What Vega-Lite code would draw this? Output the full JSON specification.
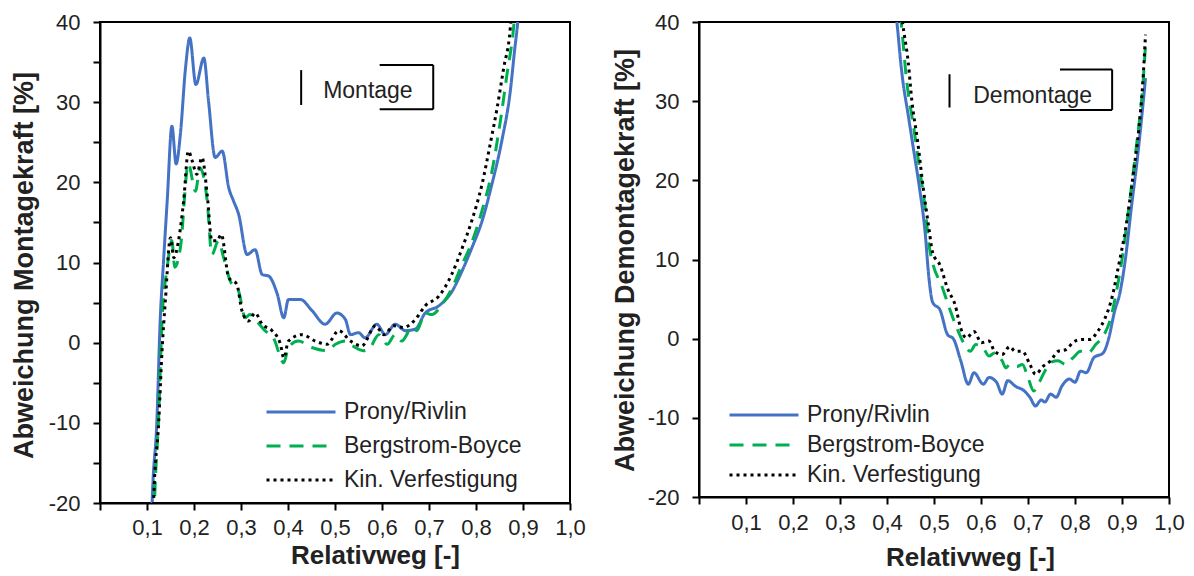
{
  "$schema": "https://vega.github.io/schema/vega-lite/v6.json",
  "padding": {"left": 8, "top": 10, "right": 5, "bottom": 5},
  "background": "white",
  "bounds": "flush",
  "spacing": 129,
  "config": {
    "view": {"stroke": "black", "strokeWidth": 2},
    "font": "Liberation Sans",
    "axis": {
      "domainColor": "black", "domainWidth": 2,
      "tickColor": "black", "tickWidth": 2, "tickSize": 7,
      "grid": false,
      "labelFont": "Liberation Sans", "labelFontSize": 22, "labelColor": "#222",
      "labelOverlap": false, "labelFlush": false,
      "titleFont": "Liberation Sans", "titleFontWeight": "bold", "titleColor": "#222"
    }
  },
  "datasets": {
    "mont": [
      {"m":"P","x":0.110,"y":-22},{"m":"P","x":0.111,"y":-20},{"m":"P","x":0.121,"y":-9.8},{"m":"P","x":0.128,"y":2.7},{"m":"P","x":0.135,"y":10},{"m":"P","x":0.143,"y":17.7},{"m":"P","x":0.153,"y":27},{"m":"P","x":0.162,"y":22.3},{"m":"P","x":0.171,"y":26},{"m":"P","x":0.182,"y":34.3},{"m":"P","x":0.191,"y":38},{"m":"P","x":0.204,"y":32.2},{"m":"P","x":0.221,"y":35.5},{"m":"P","x":0.231,"y":30.1},{"m":"P","x":0.245,"y":23.1},{"m":"P","x":0.26,"y":23.9},{"m":"P","x":0.274,"y":19.3},{"m":"P","x":0.284,"y":17.7},{"m":"P","x":0.295,"y":16},{"m":"P","x":0.313,"y":11},{"m":"P","x":0.33,"y":11.6},{"m":"P","x":0.345,"y":8.5},{"m":"P","x":0.359,"y":8.3},{"m":"P","x":0.377,"y":6.1},{"m":"P","x":0.391,"y":3.1},{"m":"P","x":0.401,"y":5.4},{"m":"P","x":0.426,"y":5.4},{"m":"P","x":0.451,"y":4},{"m":"P","x":0.479,"y":2.3},{"m":"P","x":0.504,"y":3.7},{"m":"P","x":0.522,"y":2.9},{"m":"P","x":0.533,"y":1},{"m":"P","x":0.55,"y":1.25},{"m":"P","x":0.564,"y":0.6},{"m":"P","x":0.589,"y":2.3},{"m":"P","x":0.607,"y":1},{"m":"P","x":0.628,"y":2.3},{"m":"P","x":0.65,"y":1.5},{"m":"P","x":0.671,"y":1.7},{"m":"P","x":0.692,"y":3.7},{"m":"P","x":0.721,"y":4.6},{"m":"P","x":0.749,"y":6.4},{"m":"P","x":0.77,"y":8.9},{"m":"P","x":0.791,"y":11.8},{"m":"P","x":0.813,"y":15.2},{"m":"P","x":0.834,"y":19.8},{"m":"P","x":0.855,"y":25.2},{"m":"P","x":0.873,"y":31.4},{"m":"P","x":0.882,"y":36.4},{"m":"P","x":0.889,"y":40.1},{"m":"P","x":0.893,"y":43},
      {"m":"B","x":0.115,"y":-22},{"m":"B","x":0.116,"y":-20},{"m":"B","x":0.125,"y":-9},{"m":"B","x":0.132,"y":2.7},{"m":"B","x":0.143,"y":9.4},{"m":"B","x":0.153,"y":12.7},{"m":"B","x":0.159,"y":9.4},{"m":"B","x":0.171,"y":11.8},{"m":"B","x":0.188,"y":22.3},{"m":"B","x":0.203,"y":18.9},{"m":"B","x":0.213,"y":21.8},{"m":"B","x":0.228,"y":17.7},{"m":"B","x":0.238,"y":11},{"m":"B","x":0.252,"y":12.7},{"m":"B","x":0.263,"y":10.6},{"m":"B","x":0.277,"y":7.7},{"m":"B","x":0.295,"y":6.4},{"m":"B","x":0.309,"y":3.1},{"m":"B","x":0.319,"y":3.5},{"m":"B","x":0.333,"y":2.7},{"m":"B","x":0.351,"y":1.5},{"m":"B","x":0.369,"y":0.6},{"m":"B","x":0.391,"y":-2.5},{"m":"B","x":0.401,"y":-0.6},{"m":"B","x":0.422,"y":0.2},{"m":"B","x":0.451,"y":-0.6},{"m":"B","x":0.483,"y":-1},{"m":"B","x":0.501,"y":-0.2},{"m":"B","x":0.522,"y":0.2},{"m":"B","x":0.543,"y":-0.6},{"m":"B","x":0.561,"y":-1},{"m":"B","x":0.575,"y":-0.6},{"m":"B","x":0.593,"y":1},{"m":"B","x":0.611,"y":-0.2},{"m":"B","x":0.628,"y":1},{"m":"B","x":0.642,"y":0.2},{"m":"B","x":0.664,"y":1.9},{"m":"B","x":0.674,"y":1.5},{"m":"B","x":0.692,"y":3.7},{"m":"B","x":0.706,"y":3.5},{"m":"B","x":0.728,"y":4.8},{"m":"B","x":0.749,"y":6.8},{"m":"B","x":0.77,"y":9.7},{"m":"B","x":0.791,"y":12.5},{"m":"B","x":0.813,"y":16.5},{"m":"B","x":0.834,"y":21.4},{"m":"B","x":0.852,"y":27.7},{"m":"B","x":0.866,"y":33.5},{"m":"B","x":0.88,"y":39.3},{"m":"B","x":0.884,"y":42},
      {"m":"K","x":0.113,"y":-22},{"m":"K","x":0.114,"y":-20},{"m":"K","x":0.125,"y":-9.8},{"m":"K","x":0.132,"y":-1},{"m":"K","x":0.139,"y":5.2},{"m":"K","x":0.15,"y":13.1},{"m":"K","x":0.157,"y":10.6},{"m":"K","x":0.167,"y":12.7},{"m":"K","x":0.178,"y":17.7},{"m":"K","x":0.188,"y":23.9},{"m":"K","x":0.196,"y":22.7},{"m":"K","x":0.206,"y":21},{"m":"K","x":0.217,"y":23.1},{"m":"K","x":0.228,"y":18.5},{"m":"K","x":0.238,"y":12.7},{"m":"K","x":0.249,"y":12.7},{"m":"K","x":0.258,"y":13.5},{"m":"K","x":0.274,"y":8.1},{"m":"K","x":0.291,"y":7.3},{"m":"K","x":0.302,"y":4},{"m":"K","x":0.316,"y":2.7},{"m":"K","x":0.33,"y":3.7},{"m":"K","x":0.345,"y":2.3},{"m":"K","x":0.366,"y":1.5},{"m":"K","x":0.384,"y":-0.2},{"m":"K","x":0.391,"y":-1.9},{"m":"K","x":0.401,"y":0.2},{"m":"K","x":0.43,"y":1},{"m":"K","x":0.458,"y":0.2},{"m":"K","x":0.483,"y":-0.2},{"m":"K","x":0.508,"y":1.5},{"m":"K","x":0.533,"y":0.2},{"m":"K","x":0.557,"y":-0.4},{"m":"K","x":0.586,"y":2.1},{"m":"K","x":0.604,"y":1},{"m":"K","x":0.625,"y":2.1},{"m":"K","x":0.646,"y":1.9},{"m":"K","x":0.671,"y":2.9},{"m":"K","x":0.692,"y":4.6},{"m":"K","x":0.721,"y":5.8},{"m":"K","x":0.749,"y":8.6},{"m":"K","x":0.77,"y":11.7},{"m":"K","x":0.791,"y":15.2},{"m":"K","x":0.813,"y":19.8},{"m":"K","x":0.83,"y":24.7},{"m":"K","x":0.845,"y":29.3},{"m":"K","x":0.859,"y":34.3},{"m":"K","x":0.873,"y":39.3},{"m":"K","x":0.876,"y":42}
    ],
    "demont": [
      {"m":"P","x":0.419,"y":41},{"m":"P","x":0.421,"y":40},{"m":"P","x":0.429,"y":35},{"m":"P","x":0.433,"y":32.9},{"m":"P","x":0.445,"y":28.3},{"m":"P","x":0.457,"y":23.7},{"m":"P","x":0.469,"y":19.1},{"m":"P","x":0.481,"y":13.5},{"m":"P","x":0.489,"y":7.8},{"m":"P","x":0.497,"y":4.6},{"m":"P","x":0.513,"y":3.6},{"m":"P","x":0.529,"y":0.5},{"m":"P","x":0.541,"y":0},{"m":"P","x":0.557,"y":-2.8},{"m":"P","x":0.573,"y":-5.75},{"m":"P","x":0.585,"y":-4.3},{"m":"P","x":0.605,"y":-5.75},{"m":"P","x":0.617,"y":-4.9},{"m":"P","x":0.633,"y":-5.5},{"m":"P","x":0.645,"y":-7},{"m":"P","x":0.657,"y":-5.3},{"m":"P","x":0.673,"y":-6},{"m":"P","x":0.692,"y":-6.6},{"m":"P","x":0.704,"y":-7.4},{"m":"P","x":0.716,"y":-8.5},{"m":"P","x":0.728,"y":-7.75},{"m":"P","x":0.736,"y":-8},{"m":"P","x":0.748,"y":-7},{"m":"P","x":0.76,"y":-7.4},{"m":"P","x":0.772,"y":-6},{"m":"P","x":0.788,"y":-5.1},{"m":"P","x":0.8,"y":-5.5},{"m":"P","x":0.812,"y":-4.1},{"m":"P","x":0.824,"y":-4.3},{"m":"P","x":0.84,"y":-2.4},{"m":"P","x":0.86,"y":-1.8},{"m":"P","x":0.872,"y":0.1},{"m":"P","x":0.884,"y":3.4},{"m":"P","x":0.896,"y":5.9},{"m":"P","x":0.908,"y":10.4},{"m":"P","x":0.92,"y":16.6},{"m":"P","x":0.932,"y":22.4},{"m":"P","x":0.944,"y":29.2},{"m":"P","x":0.95,"y":32.9},
      {"m":"B","x":0.428,"y":41},{"m":"B","x":0.43,"y":40},{"m":"B","x":0.441,"y":33},{"m":"B","x":0.457,"y":26.6},{"m":"B","x":0.469,"y":21.6},{"m":"B","x":0.481,"y":16.6},{"m":"B","x":0.489,"y":12},{"m":"B","x":0.497,"y":9.6},{"m":"B","x":0.517,"y":6.6},{"m":"B","x":0.533,"y":3.8},{"m":"B","x":0.549,"y":1.3},{"m":"B","x":0.565,"y":-0.75},{"m":"B","x":0.577,"y":-1.6},{"m":"B","x":0.589,"y":-0.75},{"m":"B","x":0.605,"y":-1.2},{"m":"B","x":0.617,"y":-2.2},{"m":"B","x":0.629,"y":-1.8},{"m":"B","x":0.645,"y":-2.8},{"m":"B","x":0.653,"y":-3.7},{"m":"B","x":0.661,"y":-3.25},{"m":"B","x":0.677,"y":-3.5},{"m":"B","x":0.688,"y":-3.25},{"m":"B","x":0.7,"y":-4.9},{"m":"B","x":0.712,"y":-6.6},{"m":"B","x":0.724,"y":-5.5},{"m":"B","x":0.736,"y":-4.1},{"m":"B","x":0.748,"y":-3},{"m":"B","x":0.764,"y":-2.8},{"m":"B","x":0.78,"y":-3.25},{"m":"B","x":0.796,"y":-2.4},{"m":"B","x":0.812,"y":-1.6},{"m":"B","x":0.828,"y":-1.8},{"m":"B","x":0.844,"y":-0.75},{"m":"B","x":0.86,"y":0.3},{"m":"B","x":0.876,"y":2.6},{"m":"B","x":0.888,"y":5.9},{"m":"B","x":0.9,"y":10},{"m":"B","x":0.908,"y":13.5},{"m":"B","x":0.92,"y":19.1},{"m":"B","x":0.932,"y":25},{"m":"B","x":0.944,"y":31.7},{"m":"B","x":0.95,"y":37.1},
      {"m":"K","x":0.431,"y":41},{"m":"K","x":0.433,"y":40},{"m":"K","x":0.445,"y":35},{"m":"K","x":0.453,"y":30},{"m":"K","x":0.465,"y":25},{"m":"K","x":0.477,"y":19.1},{"m":"K","x":0.489,"y":14},{"m":"K","x":0.497,"y":10.9},{"m":"K","x":0.513,"y":9.25},{"m":"K","x":0.529,"y":6.3},{"m":"K","x":0.545,"y":4.25},{"m":"K","x":0.557,"y":1.3},{"m":"K","x":0.569,"y":0.1},{"m":"K","x":0.585,"y":0.9},{"m":"K","x":0.601,"y":-0.5},{"m":"K","x":0.617,"y":-0.3},{"m":"K","x":0.629,"y":-1.6},{"m":"K","x":0.645,"y":-2},{"m":"K","x":0.661,"y":-1},{"m":"K","x":0.673,"y":-1.6},{"m":"K","x":0.688,"y":-1.6},{"m":"K","x":0.704,"y":-3.25},{"m":"K","x":0.716,"y":-4.5},{"m":"K","x":0.732,"y":-3.5},{"m":"K","x":0.748,"y":-2.8},{"m":"K","x":0.764,"y":-1.6},{"m":"K","x":0.78,"y":-1.4},{"m":"K","x":0.8,"y":-0.3},{"m":"K","x":0.816,"y":-0.1},{"m":"K","x":0.832,"y":-0.1},{"m":"K","x":0.848,"y":0.9},{"m":"K","x":0.864,"y":2.6},{"m":"K","x":0.88,"y":5.5},{"m":"K","x":0.892,"y":9},{"m":"K","x":0.908,"y":14},{"m":"K","x":0.924,"y":20.8},{"m":"K","x":0.936,"y":26.6},{"m":"K","x":0.944,"y":32.1},{"m":"K","x":0.95,"y":38.4}
    ]
  },
  "resolve": {
    "scale": {"color": "independent", "strokeDash": "independent"},
    "legend": {"color": "independent", "strokeDash": "independent"}
  },
  "hconcat": [
    {
      "width": 470, "height": 481,
      "layer": [
        {
          "data": {"name": "mont"},
          "mark": {"type": "line", "strokeWidth": 3, "clip": true, "strokeCap": "butt", "interpolate": "monotone"},
          "encoding": {
            "x": {"field": "x", "type": "quantitative",
              "scale": {"domain": [0, 1], "nice": false, "zero": false},
              "axis": {"values": [0,0.05,0.1,0.15,0.2,0.25,0.3,0.35,0.4,0.45,0.5,0.55,0.6,0.65,0.7,0.75,0.8,0.85,0.9,0.95,1],
                "labelExpr": "datum.value > 0.01 && abs(datum.value * 10 - round(datum.value * 10)) < 0.001 ? replace(format(datum.value, '.1f'), '.', ',') : ''",
                "labelPadding": 7,
                "title": "Relativweg [-]", "titleFontSize": 26, "titleX": 275, "titleY": 52, "titleAlign": "center", "titleBaseline": "middle"}},
            "y": {"field": "y", "type": "quantitative",
              "scale": {"domain": [-20, 40], "nice": false, "zero": false},
              "axis": {"values": [-20,-15,-10,-5,0,5,10,15,20,25,30,35,40],
                "labelExpr": "datum.value % 10 == 0 ? '' + datum.value : ''",
                "labelPadding": 13,
                "title": "Abweichung Montagekraft [%]", "titleFontSize": 27, "titleAngle": 270,
                "titleX": -76, "titleY": 243, "titleAlign": "center", "titleBaseline": "middle"}},
            "color": {"field": "m", "type": "nominal",
              "scale": {"domain": ["P", "B", "K"], "range": ["#4472C4", "#00B050", "#000000"]},
              "legend": {"title": null, "orient": "none", "legendX": 188, "legendY": 377, "symbolType": "M -3 0 L 3 0", "symbolSize": 529, "symbolStrokeWidth": 3, "labelFontSize": 23, "labelFont": "Liberation Sans", "labelColor": "#222", "rowPadding": 9, "labelOffset": 30, "labelLimit": 400, "padding": 0,
                "labelExpr": "datum.label == 'P' ? 'Prony/Rivlin' : datum.label == 'B' ? 'Bergstrom-Boyce' : 'Kin. Verfestigung'"}},
            "strokeDash": {"field": "m", "type": "nominal",
              "scale": {"domain": ["P", "B", "K"], "range": [[1, 0], [14, 9], [3, 4]]},
              "legend": {"title": null, "orient": "none", "legendX": 188, "legendY": 377, "symbolType": "M -3 0 L 3 0", "symbolSize": 529, "symbolStrokeWidth": 3, "labelFontSize": 23, "labelFont": "Liberation Sans", "labelColor": "#222", "rowPadding": 9, "labelOffset": 30, "labelLimit": 400, "padding": 0,
                "labelExpr": "datum.label == 'P' ? 'Prony/Rivlin' : datum.label == 'B' ? 'Bergstrom-Boyce' : 'Kin. Verfestigung'"}}
          }
        },
        {"data": {"values": [{}]}, "mark": {"type": "rule", "stroke": "black", "strokeWidth": 2},
          "encoding": {"x": {"datum": 0.428}, "y": {"datum": 34.0}, "y2": {"datum": 29.65}}},
        {"data": {"values": [{}]}, "mark": {"type": "rule", "stroke": "black", "strokeWidth": 2},
          "encoding": {"x": {"datum": 0.595}, "x2": {"datum": 0.709}, "y": {"datum": 34.64}}},
        {"data": {"values": [{}]}, "mark": {"type": "rule", "stroke": "black", "strokeWidth": 2},
          "encoding": {"x": {"datum": 0.595}, "x2": {"datum": 0.709}, "y": {"datum": 29.11}}},
        {"data": {"values": [{}]}, "mark": {"type": "rule", "stroke": "black", "strokeWidth": 2},
          "encoding": {"x": {"datum": 0.709}, "y": {"datum": 34.64}, "y2": {"datum": 29.11}}},
        {"data": {"values": [{"label": "Montage"}]}, "mark": {"type": "text", "font": "Liberation Sans", "fontSize": 23, "color": "#222", "align": "center", "baseline": "middle"},
          "encoding": {"text": {"field": "label"}, "x": {"datum": 0.570}, "y": {"datum": 31.44}}}
      ]
    },
    {
      "width": 470, "height": 475,
      "layer": [
        {
          "data": {"name": "demont"},
          "mark": {"type": "line", "strokeWidth": 3, "clip": true, "strokeCap": "butt", "interpolate": "monotone"},
          "encoding": {
            "x": {"field": "x", "type": "quantitative",
              "scale": {"domain": [0, 1], "nice": false, "zero": false},
              "axis": {"values": [0,0.05,0.1,0.15,0.2,0.25,0.3,0.35,0.4,0.45,0.5,0.55,0.6,0.65,0.7,0.75,0.8,0.85,0.9,0.95,1],
                "labelExpr": "datum.value > 0.01 && abs(datum.value * 10 - round(datum.value * 10)) < 0.001 ? replace(format(datum.value, '.1f'), '.', ',') : ''",
                "labelPadding": 8,
                "title": "Relativweg [-]", "titleFontSize": 26, "titleX": 271, "titleY": 60, "titleAlign": "center", "titleBaseline": "middle"}},
            "y": {"field": "y", "type": "quantitative",
              "scale": {"domain": [-20, 40], "nice": false, "zero": false},
              "axis": {"values": [-20,-15,-10,-5,0,5,10,15,20,25,30,35,40],
                "labelExpr": "datum.value % 10 == 0 ? '' + datum.value : ''",
                "labelPadding": 13,
                "title": "Abweichung Demontagekraft [%]", "titleFontSize": 27, "titleAngle": 270,
                "titleX": -74, "titleY": 238, "titleAlign": "center", "titleBaseline": "middle"}},
            "color": {"field": "m", "type": "nominal",
              "scale": {"domain": ["P", "B", "K"], "range": ["#4472C4", "#00B050", "#000000"]},
              "legend": {"title": null, "orient": "none", "legendX": 52, "legendY": 380, "symbolType": "M -3 0 L 3 0", "symbolSize": 529, "symbolStrokeWidth": 3, "labelFontSize": 23, "labelFont": "Liberation Sans", "labelColor": "#222", "rowPadding": 5, "labelOffset": 30, "labelLimit": 400, "padding": 0,
                "labelExpr": "datum.label == 'P' ? 'Prony/Rivlin' : datum.label == 'B' ? 'Bergstrom-Boyce' : 'Kin. Verfestigung'"}},
            "strokeDash": {"field": "m", "type": "nominal",
              "scale": {"domain": ["P", "B", "K"], "range": [[1, 0], [14, 9], [3, 4]]},
              "legend": {"title": null, "orient": "none", "legendX": 52, "legendY": 380, "symbolType": "M -3 0 L 3 0", "symbolSize": 529, "symbolStrokeWidth": 3, "labelFontSize": 23, "labelFont": "Liberation Sans", "labelColor": "#222", "rowPadding": 5, "labelOffset": 30, "labelLimit": 400, "padding": 0,
                "labelExpr": "datum.label == 'P' ? 'Prony/Rivlin' : datum.label == 'B' ? 'Bergstrom-Boyce' : 'Kin. Verfestigung'"}}
          }
        },
        {"data": {"values": [{}]}, "mark": {"type": "rule", "stroke": "black", "strokeWidth": 2},
          "encoding": {"x": {"datum": 0.533}, "y": {"datum": 33.4}, "y2": {"datum": 29.2}}},
        {"data": {"values": [{}]}, "mark": {"type": "rule", "stroke": "black", "strokeWidth": 2},
          "encoding": {"x": {"datum": 0.768}, "x2": {"datum": 0.879}, "y": {"datum": 34.0}}},
        {"data": {"values": [{}]}, "mark": {"type": "rule", "stroke": "black", "strokeWidth": 2},
          "encoding": {"x": {"datum": 0.768}, "x2": {"datum": 0.879}, "y": {"datum": 28.9}}},
        {"data": {"values": [{}]}, "mark": {"type": "rule", "stroke": "black", "strokeWidth": 2},
          "encoding": {"x": {"datum": 0.879}, "y": {"datum": 34.0}, "y2": {"datum": 28.9}}},
        {"data": {"values": [{"label": "Demontage"}]}, "mark": {"type": "text", "font": "Liberation Sans", "fontSize": 23, "color": "#222", "align": "center", "baseline": "middle"},
          "encoding": {"text": {"field": "label"}, "x": {"datum": 0.710}, "y": {"datum": 30.7}}}
      ]
    }
  ]
}
